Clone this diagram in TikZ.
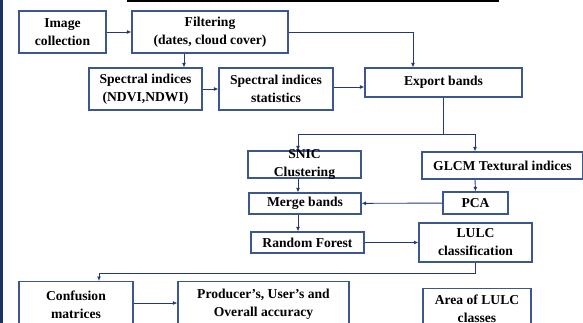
\documentclass[tikz,border=0pt]{standalone}
\usepackage{fontspec}
\setmainfont{Liberation Serif}
\usetikzlibrary{arrows.meta}
\usetikzlibrary{calc}
\definecolor{boxblue}{RGB}{60,86,142}
\definecolor{linkblue}{RGB}{34,58,122}
\definecolor{sidebar}{RGB}{28,50,98}

\begin{document}
\begin{tikzpicture}[
        x=1pt, y=-1pt,
        box/.style={draw=boxblue, line width=1.1pt, align=center, inner sep=0pt,
            font=\fontsize{13.6}{18}\selectfont\bfseries},
        link/.style={-{Latex[length=4.5pt,width=4pt]}, draw=linkblue, line width=0.9pt}
    ]
        \useasboundingbox (0,0) rectangle (583,323);
        \clip (0,0) rectangle (583,323);
        \fill[sidebar] (0,0) rectangle (3,323);
        \fill[black] (127,0) rectangle (499,2.5);

        % Preprocessing
        \node[box, minimum width=87pt, minimum height=42pt] (img) at (62.5,32) {Image\\collection};
        \node[box, minimum width=156pt, minimum height=42pt] (filt) at (210,32) {Filtering\\(dates, cloud cover)};
        \node[box, minimum width=113pt, minimum height=42pt] (spec) at (145.5,89) {Spectral indices\\(NDVI,NDWI)};
        \node[box, minimum width=114pt, minimum height=42pt] (stat) at (276,89) {Spectral indices\\statistics};
        \node[box, minimum width=157pt, minimum height=29pt] (expo) at (443.5,82.5) {Export bands};

        % Segmentation and texture
        \node[box, minimum width=113pt, minimum height=27pt, inner ysep=-2pt] (snic) at (304.5,164.5) {SNIC\\Clustering};
        \node[box, minimum width=161pt, minimum height=27pt] (glcm) at (502.5,165.5) {GLCM Textural indices};
        \node[box, minimum width=112pt, minimum height=21pt] (merge) at (305,203.5) {Merge bands};
        \node[box, minimum width=65pt, minimum height=22pt] (pca) at (475.5,203) {PCA};
        \node[box, minimum width=113pt, minimum height=21pt] (rf) at (307.5,242.5) {Random Forest};
        \node[box, minimum width=113pt, minimum height=39pt] (lulc) at (475.5,242.5) {LULC\\classification};

        % Accuracy and area
        \node[box, anchor=north, minimum width=114pt, minimum height=46pt] (conf) at (76,281) {Confusion\\matrices};
        \node[box, anchor=north, minimum width=171pt, minimum height=46pt] (prod) at (263.5,281) {Producer's, User's and\\Overall accuracy};
        \node[box, anchor=north, minimum width=108pt, minimum height=40pt] (area) at (477,288) {Area of LULC\\classes};

        \draw[link] (img) -- (filt);
        \draw[link] (filt.east) -| ([xshift=-30.5pt]expo.north);
        \draw[link] ([xshift=-26pt]filt.south) -- ([xshift=-26pt]filt.south |- spec.north);
        \draw[link] (spec) -- (stat);
        \draw[link] ([yshift=2pt]stat.east) -- ([yshift=2pt]stat.east -| expo.west);
        \draw[draw=linkblue, line width=0.9pt] (expo.south) -- ++(0,37) coordinate (split);
        \draw[link] (split) -| ([xshift=-6.5pt]snic.north);
        \draw[link] (split) -| ([xshift=-27.5pt]glcm.north);
        \draw[link] ([xshift=-6.5pt]snic.south) -- ([xshift=-6.5pt]snic.south |- merge.north);
        \draw[link] ([xshift=-27.5pt]glcm.south) -- (pca.north);
        \draw[link] (pca) -- (merge);
        \draw[link] ([xshift=-7pt]merge.south) -- ([xshift=-7pt]merge.south |- rf.north);
        \draw[link] (rf) -- (rf -| lulc.west);
        \draw[link] (lulc.south) -- ++(0,11) -| ([xshift=23pt]conf.north);
        \draw[link] ([yshift=-22pt]conf.north east) -- ([yshift=-22pt]conf.north east -| prod.west);
    \end{tikzpicture}
\end{document}
